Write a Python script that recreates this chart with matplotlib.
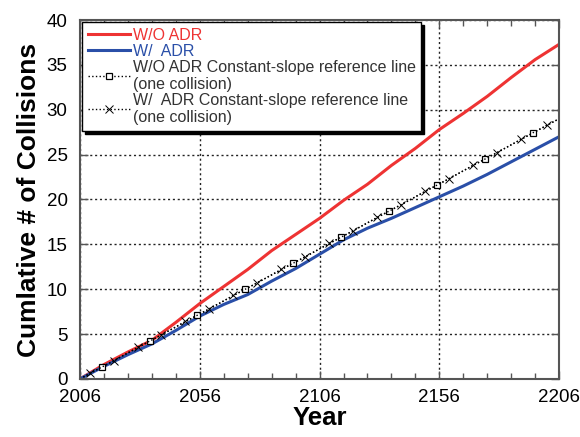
import matplotlib
matplotlib.use("Agg")
import matplotlib.pyplot as plt
from matplotlib.ticker import MultipleLocator

plt.rcParams['font.family'] = ['Liberation Sans', 'DejaVu Sans']

# Data
years = [2006, 2016, 2026, 2036, 2046, 2056, 2066, 2076, 2086, 2096, 2106,
         2116, 2126, 2136, 2146, 2156, 2166, 2176, 2186, 2196, 2206]
wo_adr = [0, 1.6, 3.0, 4.3, 6.3, 8.4, 10.3, 12.2, 14.3, 16.1, 17.9,
          19.9, 21.7, 23.8, 25.7, 27.8, 29.6, 31.5, 33.6, 35.6, 37.3]
w_adr = [0, 1.4, 2.7, 3.9, 5.4, 7.0, 8.3, 9.4, 10.9, 12.3, 13.9,
         15.5, 16.8, 17.9, 19.1, 20.3, 21.5, 22.8, 24.2, 25.6, 27.0]

# constant-slope reference lines (start, marker points, end)
ref_wo_years = [2006, 2015, 2035, 2055, 2075, 2095, 2115, 2135, 2155, 2175, 2195, 2206]
ref_wo_vals = [0, 1.3, 4.2, 7.1, 10.0, 12.9, 15.8, 18.7, 21.6, 24.5, 27.4, 29.0]
ref_w_years = [2006, 2010, 2020, 2030, 2040, 2050, 2060, 2070, 2080, 2090, 2100,
               2110, 2120, 2130, 2140, 2150, 2160, 2170, 2180, 2190, 2201, 2206]
ref_w_vals = [0, 0.6, 2.0, 3.5, 4.9, 6.4, 7.8, 9.3, 10.7, 12.2, 13.6,
              15.1, 16.5, 18.0, 19.4, 20.9, 22.3, 23.8, 25.2, 26.7, 28.3, 29.0]

red = '#ee3333'
blue = '#2a4fa8'

fig = plt.figure(figsize=(5.8, 4.37), dpi=100)
ax = fig.add_axes([0.138, 0.133, 0.826, 0.821])

ax.plot(years, wo_adr, color=red, lw=2.2, label='W/O ADR')
ax.plot(years, w_adr, color=blue, lw=2.2, label='W/  ADR')
ax.plot(ref_wo_years, ref_wo_vals, color='black', ls=':', lw=1.0, marker='s',
        ms=5, mfc='white', mec='black', mew=0.9,
        markevery=list(range(1, len(ref_wo_years) - 1)),
        label='W/O ADR Constant-slope reference line\n(one collision)')
ax.plot(ref_w_years, ref_w_vals, color='black', ls=':', lw=1.0, marker='x',
        ms=6, mec='black', mew=0.7,
        markevery=list(range(1, len(ref_w_years) - 1)),
        label='W/  ADR Constant-slope reference line\n(one collision)')

ax.set_xlim(2006, 2206)
ax.set_ylim(0, 40)
ax.yaxis.set_major_locator(MultipleLocator(5))
ax.set_xticks([2006, 2056, 2106, 2156, 2206])
ax.set_xticks(list(range(2016, 2206, 10)), minor=True)

ax.grid(True, which='major', ls=(0, (1.5, 2)), color='#222222', lw=1.0)
ax.tick_params(which='both', direction='in', top=True, right=True,
               color='#555555', labelsize=13.5)
ax.tick_params(which='major', length=6, width=1)
ax.tick_params(which='minor', length=4, width=1)
ax.tick_params(axis='x', pad=7)
ax.tick_params(axis='y', pad=9)
for s in ax.spines.values():
    s.set_color('#555555')
    s.set_linewidth(1.5)

ax.set_xlabel('Year', fontsize=18.5, fontweight='bold', labelpad=0)
ax.set_ylabel('Cumlative # of Collisions', fontsize=19, fontweight='bold', labelpad=4)

leg = ax.legend(loc='upper left', bbox_to_anchor=(0.0, 1.0), fontsize=11.5,
                handlelength=2.6, handletextpad=0.2, labelspacing=0.05,
                borderpad=0.35, borderaxespad=0.15, fancybox=False, framealpha=1,
                edgecolor='black', shadow={'color': 'black', 'alpha': 1},
                labelcolor=[red, blue, '#333333', '#333333'])
leg.get_frame().set_linewidth(1.0)

fig.savefig('out.png', dpi=100)
